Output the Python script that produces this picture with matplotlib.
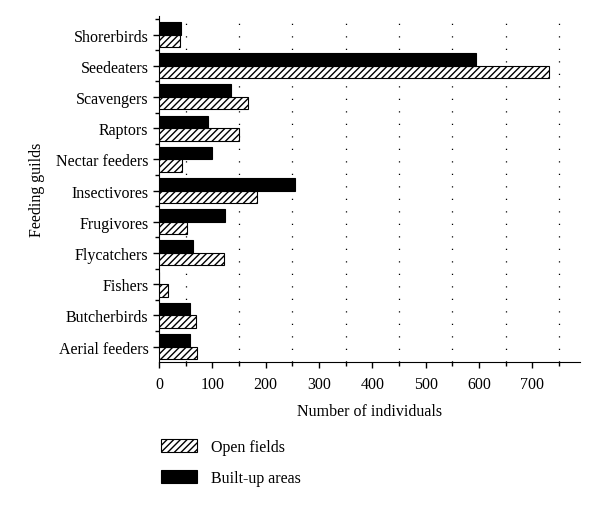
import numpy as np
import matplotlib.pyplot as plt
from matplotlib.ticker import MultipleLocator

guilds = ["Aerial feeders", "Butcherbirds", "Fishers", "Flycatchers", "Frugivores",
          "Insectivores", "Nectar feeders", "Raptors", "Scavengers", "Seedeaters",
          "Shorerbirds"]
open_fields = [72, 69, 17, 122, 52, 184, 44, 150, 167, 731, 40]
built_up = [58, 59, 0, 63, 124, 256, 99, 91, 135, 595, 42]

plt.rcParams['font.family'] = ['Liberation Serif', 'DejaVu Serif']
plt.rcParams['hatch.linewidth'] = 1.0

fig = plt.figure(figsize=(6, 5.1), dpi=100)
ax = fig.add_axes([0.265, 0.288, 0.702, 0.679])

y = np.arange(len(guilds))
h = 0.4
ax.barh(y - h / 2, open_fields, height=h, color='white', edgecolor='black',
        hatch='/////', linewidth=0.8, label='Open fields', zorder=3)
ax.barh(y + h / 2, built_up, height=h, color='black', edgecolor='black',
        linewidth=0.8, label='Built-up areas', zorder=3)

ax.set_xlim(0, 790)
ax.set_ylim(-0.5, 10.6)
ax.set_yticks(y)
ax.set_yticklabels(guilds)
ax.set_yticks(y + 0.5, minor=True)
ax.xaxis.set_major_locator(MultipleLocator(100))
ax.xaxis.set_minor_locator(MultipleLocator(50))
for gx in np.arange(50, 800, 100):
    ax.axvline(gx, color='black', linestyle=(0, (1, 9)), linewidth=0.9, zorder=1)

ax.spines['top'].set_visible(False)
ax.spines['right'].set_visible(False)
ax.tick_params(axis='both', which='both', direction='out', labelsize=11.5, width=1)
ax.tick_params(which='major', length=4)
ax.tick_params(which='minor', length=3)
ax.tick_params(axis='x', pad=6)
ax.set_xlabel("Number of individuals", fontsize=11.5, labelpad=8)
ax.set_ylabel("Feeding guilds", fontsize=11.5, labelpad=8)

fig.legend(loc='upper left', bbox_to_anchor=(0.245, 0.165), frameon=False,
           fontsize=11.5, handlelength=2.2, handleheight=0.9, handletextpad=0.9,
           labelspacing=0.9)

plt.savefig("out.png", dpi=100)
